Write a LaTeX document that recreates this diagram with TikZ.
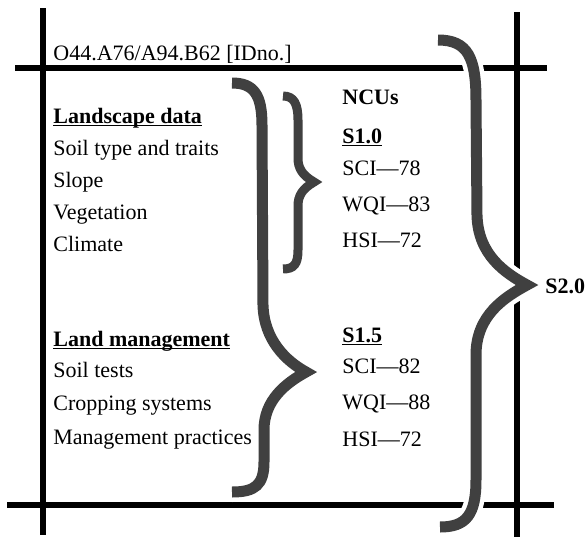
\documentclass[tikz,border=0pt]{standalone}
\usepackage{fontspec}
\setmainfont{Liberation Serif}
\definecolor{bracegray}{HTML}{404040}
\newcommand{\headtext}[1]{\underline{\smash{\textbf{#1}}}}

\begin{document}
    \begin{tikzpicture}[x=0.5pt, y=-0.5pt,
            rule/.style={line width=3pt, black},
            curly/.style={draw=bracegray, line width=5.5pt, line join=miter, miter limit=20,
                preaction={draw=white, line width=10pt}},
            entry/.style={anchor=base west, inner sep=0pt, font=\fontsize{11}{13}\selectfont}]
        \useasboundingbox 
            (0,0) rectangle (585,537);
        % frame lines
        \draw 
            [rule] (43,8)--(43,535);
        \draw 
            [rule] (517,12)--(517,537);
        \draw 
            [rule] (15,68)--(547,68);
        \draw 
            [rule] (7,505)--(554,505);
        % braces
        \draw 
            [curly] (232,83) .. controls (254,83) and (262,95) .. (262,125)
            -- (263,305) .. controls (264,340) and (286,361) .. (306,372)
            .. controls (286,383) and (264,400) .. (264,430)
            -- (264,462) .. controls (264,485) and (255,492) .. (232,492);
        \draw 
            [curly, line width=4.5pt] (283,96) .. controls (294,96) and (298,104) .. (298,120)
            -- (298,158) .. controls (298,168) and (302,175) .. (314,182)
            .. controls (302,189) and (298,196) .. (298,206)
            -- (298,250) .. controls (298,264) and (294,269) .. (283,269);
        \draw 
            [curly] (438,40) .. controls (468,40) and (476,58) .. (476,100)
            -- (477,215) .. controls (478,255) and (505,273) .. (527,285)
            .. controls (505,297) and (476,315) .. (476,355)
            -- (476,480) .. controls (476,515) and (466,527) .. (440,527);
        % left column
        \draw 
            (53,60) node (idno) [entry]{O44.A76/A94.B62 [IDno.]};
        \draw 
            (53,123) node (land) [entry]{\headtext{Landscape data}};
        \draw 
            (53,155) node (soil) [entry]{Soil type and traits};
        \draw 
            (53,187) node (slope) [entry]{Slope};
        \draw 
            (53,219) node (veg) [entry]{Vegetation};
        \draw 
            (53,251) node (climate) [entry]{Climate};
        \draw 
            (53,346) node (mgmt) [entry]{\headtext{Land management}};
        \draw 
            (53,377) node (tests) [entry]{Soil tests};
        \draw 
            (53,410) node (crop) [entry]{Cropping systems};
        \draw 
            (53,444) node (practice) [entry]{Management practices};
        % right column
        \draw 
            (342,104) node (ncu) [entry]{\textbf{NCUs}};
        \draw 
            (342,143) node (sa) [entry]{\headtext{S1.0}};
        \draw 
            (342,175) node (scia) [entry]{SCI---78};
        \draw 
            (342,211) node (wqia) [entry]{WQI---83};
        \draw 
            (342,247) node (hsia) [entry]{HSI---72};
        \draw 
            (342,342) node (sb) [entry]{\headtext{S1.5}};
        \draw 
            (342,373) node (scib) [entry]{SCI---82};
        \draw 
            (342,409) node (wqib) [entry]{WQI---88};
        \draw 
            (342,446) node (hsib) [entry]{HSI---72};
        \draw 
            (545,293) node (stwo) [entry]{\textbf{S2.0}};
    \end{tikzpicture}
\end{document}
